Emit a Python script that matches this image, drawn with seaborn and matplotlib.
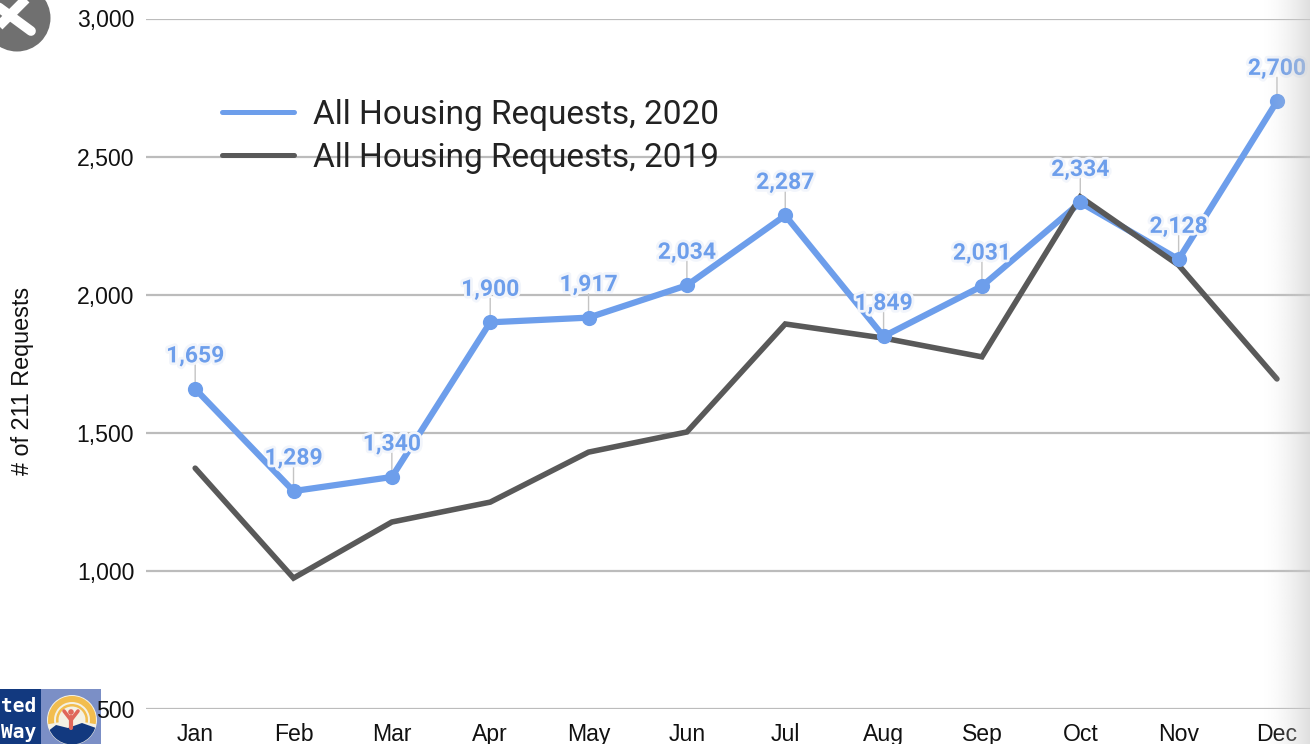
import numpy as np
import pandas as pd
import matplotlib
matplotlib.use("Agg")
import matplotlib.pyplot as plt
import matplotlib.patheffects as pe
from matplotlib.patches import Circle, Rectangle, Wedge, Polygon
import seaborn as sns

months = ["Jan", "Feb", "Mar", "Apr", "May", "Jun", "Jul", "Aug", "Sep", "Oct", "Nov", "Dec"]
requests_2020 = [1659, 1289, 1340, 1900, 1917, 2034, 2287, 1849, 2031, 2334, 2128, 2700]
requests_2019 = [1372, 974, 1177, 1249, 1430, 1503, 1894, 1843, 1775, 2354, 2107, 1695]
y_ticks = [500, 1000, 1500, 2000, 2500, 3000]

BLUE = "#6d9eeb"
DARK = "#595959"
NAVY = "#12397f"
W, H = 1310, 744

sns.set_theme(style="white")
plt.rcParams["font.family"] = ["Liberation Sans", "DejaVu Sans"]

fig = plt.figure(figsize=(W / 100, H / 100), dpi=100, facecolor="white")


def pixel_axes(zorder):
    a = fig.add_axes([0, 0, 1, 1], facecolor="none", zorder=zorder)
    a.set_xlim(0, W)
    a.set_ylim(H, 0)
    a.axis("off")
    return a


# decorations beneath the chart: close button and logo
under = pixel_axes(0)
under.add_patch(Circle((17, 18), 33.5, color="#707070", lw=0))
under.plot([-3, 31], [6, 31], color="white", lw=7, solid_capstyle="round")
under.plot([28, -3], [-3, 28], color="white", lw=7, solid_capstyle="butt")

under.add_patch(Rectangle((0, 689), 41, 55, color=NAVY, lw=0))
under.add_patch(Rectangle((41, 689), 60, 55, color="#7b8fc6", lw=0))
under.text(36, 707, "ted", color="white", ha="right", va="center", fontsize=14, fontweight="bold",
           family="DejaVu Sans Mono")
under.text(36, 732, "Way", color="white", ha="right", va="center", fontsize=14, fontweight="bold",
           family="DejaVu Sans Mono")
under.add_patch(Circle((72, 720), 25, color="#f4f1e4", lw=0))
under.add_patch(Wedge((72, 720), 24, 170, 10, width=6, color="#f2bd4e", lw=0))
under.add_patch(Wedge((72, 720), 16, 170, 10, width=2.5, color="#f2bd4e", lw=0))
blob = Polygon([[47, 732], [56, 725], [68, 728], [82, 723], [96, 728], [96, 746], [47, 746]],
               closed=True, color=NAVY, lw=0)
under.add_patch(blob)
blob.set_clip_path(Circle((72, 720), 24.5, transform=under.transData))
under.add_patch(Circle((71, 712), 2.8, color="#e0675a", lw=0))
under.plot([64, 71, 78], [711, 720, 711], color="#e0675a", lw=2.6)
under.plot([71, 71], [717, 728], color="#e0675a", lw=3)

# the chart
ax = fig.add_axes([146 / W, 1 - 709 / H, (W - 146) / W, (709 - 18.5) / H], facecolor="none", zorder=1)

df = pd.DataFrame({"x": np.arange(len(months)), "y20": requests_2020, "y19": requests_2019})
sns.lineplot(data=df, x="x", y="y20", color=BLUE, lw=4.5, ax=ax, zorder=3,
             label="All Housing Requests, 2020", solid_joinstyle="miter", errorbar=None)
sns.lineplot(data=df, x="x", y="y19", color=DARK, lw=4.0, ax=ax, zorder=4,
             label="All Housing Requests, 2019", solid_joinstyle="miter", errorbar=None)
sns.scatterplot(data=df, x="x", y="y20", color=BLUE, s=120, linewidth=0, ax=ax, zorder=5, legend=False)

ax.set_xlim(-0.5, (W - 195) / 98.36)
ax.set_ylim(500, 3000)
ax.set_xticks(df["x"], months)
ax.set_yticks(y_ticks, [f"{v:,}" for v in y_ticks])
ax.tick_params(axis="both", length=0, labelsize=16.6, labelcolor="#111111")
ax.tick_params(axis="x", pad=10)
ax.tick_params(axis="y", pad=8.5)
ax.grid(axis="y", color="#bcbcbc", lw=1.6)
ax.grid(axis="x", visible=False)
ax.set_axisbelow(True)
for s in ax.spines.values():
    s.set_visible(False)
ax.set_xlabel("")
ax.set_ylabel("")
fig.text(23 / W, 1 - 381 / H, "# of 211 Requests", rotation=90, ha="center", va="center",
         fontsize=16.8, color="#111111", zorder=2)

for xi, v in zip(df["x"], requests_2020):
    ax.annotate("", xy=(xi, v), xytext=(0, 24), textcoords="offset pixels",
                arrowprops=dict(arrowstyle="-", color="#c4c4c4", lw=1, shrinkA=0, shrinkB=0), zorder=2)
    ax.annotate(f"{v:,}", xy=(xi, v), xytext=(0, 33), textcoords="offset pixels",
                ha="center", va="center", fontsize=16.5, fontweight="bold", color=BLUE,
                family=["Roboto", "DejaVu Sans"], zorder=6,
                path_effects=[pe.withStroke(linewidth=4, foreground="#f2f5fb")])

leg = ax.legend(loc="upper left", bbox_to_anchor=(222 / W, 1 - 99 / H), bbox_transform=fig.transFigure,
                frameon=False, handlelength=2.16, handletextpad=0.57, labelspacing=0.33,
                borderpad=0, borderaxespad=0, prop={"family": "Roboto", "size": 24})
for t in leg.get_texts():
    t.set_color("#222222")
for h in leg.get_lines():
    h.set_linewidth(3.6)

# the screenshot's soft shadow at the right edge
over = pixel_axes(10)
grad = np.zeros((2, 64, 4))
grad[..., :3] = 0.80
grad[..., 3] = np.linspace(0, 1, 64)[None, :] ** 1.6 * 0.62
over.imshow(grad, extent=(1262, W, H, 0), aspect="auto", interpolation="bilinear")
over.set_xlim(0, W)
over.set_ylim(H, 0)

fig.savefig("out.png", dpi=100)
